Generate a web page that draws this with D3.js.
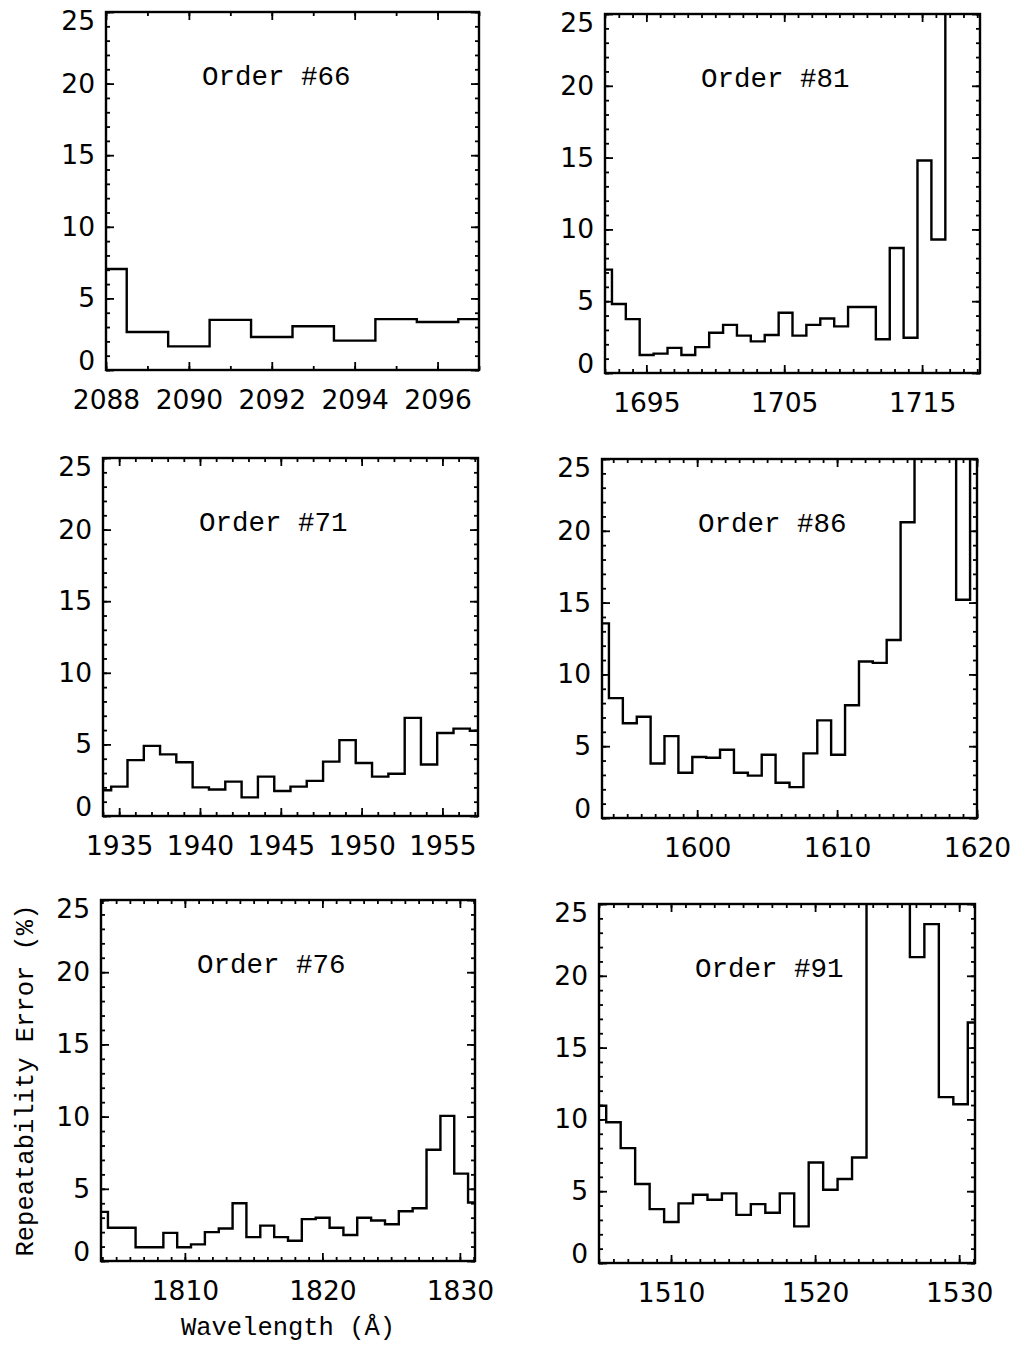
<!DOCTYPE html>
<html lang="en">
<head>
<meta charset="utf-8">
<title>Repeatability error per echelle order</title>
<script src="https://cdn.jsdelivr.net/npm/d3@7"></script>
<style>
  body { margin: 0; background: #fff; }
  .tick text { font-family: "DejaVu Sans", sans-serif; font-size: 26.5px; fill: #000; }
  .tick line { stroke: #000; stroke-width: 1.8; }
  .frame { fill: none; stroke: #000; stroke-width: 2.4; }
  .step { fill: none; stroke: #000; stroke-width: 2.4; stroke-linejoin: miter; }
  .order { font-family: "Liberation Mono", monospace; font-size: 27.5px; fill: #000; }
  .title { font-family: "Liberation Mono", monospace; font-size: 25.5px; fill: #000; }
</style>
</head>
<body>
<svg id="chart" width="1015" height="1347"></svg>
<script>
// wavelengths (bin centres, A) and repeatability error (%)
// values above 25 run off the top of the plot
var order66Wave = [2088, 2089, 2090, 2091, 2092, 2093, 2094, 2095, 2096, 2097];
var order66Err = [7.05, 2.65, 1.65, 3.5, 2.3, 3.05, 2.05, 3.55, 3.35, 3.55];
var order66Ticks = [2088, 2090, 2092, 2094, 2096];

var order81Wave = [1692.00, 1693.01, 1694.01, 1695.02, 1696.03, 1697.04, 1698.04, 1699.05, 1700.06, 1701.07,
                   1702.07, 1703.08, 1704.09, 1705.10, 1706.10, 1707.11, 1708.12, 1709.13, 1710.13, 1711.14,
                   1712.15, 1713.16, 1714.16, 1715.17, 1716.18, 1717.19, 1718.19, 1719.20];
var order81Err = [7.2, 4.8, 3.75, 1.25, 1.35, 1.75, 1.25, 1.8, 2.8, 3.35,
                  2.6, 2.2, 2.65, 4.2, 2.6, 3.35, 3.8, 3.25, 4.6, 4.6,
                  2.35, 8.7, 2.45, 14.8, 9.3, 30, 30, 30];
var order81Ticks = [1695, 1705, 1715];

var order71Wave = [1934.00, 1935.01, 1936.02, 1937.03, 1938.03, 1939.04, 1940.05, 1941.06, 1942.07, 1943.08,
                   1944.09, 1945.10, 1946.10, 1947.11, 1948.12, 1949.13, 1950.14, 1951.15, 1952.16, 1953.17,
                   1954.17, 1955.18, 1956.19, 1957.20];
var order71Err = [1.8, 2.05, 3.9, 4.9, 4.3, 3.75, 2.0, 1.85, 2.4, 1.3,
                  2.75, 1.75, 2.05, 2.45, 3.8, 5.3, 3.7, 2.75, 2.95, 6.85,
                  3.6, 5.8, 6.1, 5.95];
var order71Ticks = [1935, 1940, 1945, 1950, 1955];

var order86Wave = [1593.20, 1594.19, 1595.19, 1596.18, 1597.17, 1598.16, 1599.16, 1600.15, 1601.14, 1602.13,
                   1603.13, 1604.12, 1605.11, 1606.10, 1607.10, 1608.09, 1609.08, 1610.07, 1611.07, 1612.06,
                   1613.05, 1614.04, 1615.04, 1616.03, 1617.02, 1618.01, 1619.01, 1620.00];
var order86Err = [13.55, 8.35, 6.6, 7.05, 3.8, 5.7, 3.15, 4.25, 4.2, 4.75,
                  3.15, 2.95, 4.4, 2.45, 2.15, 4.5, 6.8, 4.4, 7.85, 10.9,
                  10.8, 12.4, 20.6, 30, 30, 30, 15.2, 30];
var order86Ticks = [1600, 1610, 1620];

var order76Wave = [1803.90, 1804.91, 1805.91, 1806.92, 1807.93, 1808.94, 1809.94, 1810.95, 1811.96, 1812.97,
                   1813.97, 1814.98, 1815.99, 1817.00, 1818.00, 1819.01, 1820.02, 1821.03, 1822.03, 1823.04,
                   1824.05, 1825.06, 1826.06, 1827.07, 1828.08, 1829.09, 1830.09, 1831.10];
var order76Err = [3.4, 2.3, 2.3, 0.95, 0.95, 1.95, 0.95, 1.15, 2.0, 2.25,
                  4.0, 1.65, 2.45, 1.65, 1.4, 2.9, 3.0, 2.3, 1.8, 3.0,
                  2.8, 2.55, 3.45, 3.65, 7.7, 10.05, 6.05, 4.05];
var order76Ticks = [1810, 1820, 1830];

var order91Wave = [1505.00, 1506.00, 1507.01, 1508.01, 1509.02, 1510.02, 1511.02, 1512.03, 1513.03, 1514.03,
                   1515.04, 1516.04, 1517.05, 1518.05, 1519.05, 1520.06, 1521.06, 1522.06, 1523.07, 1524.07,
                   1525.08, 1526.08, 1527.08, 1528.09, 1529.09, 1530.10, 1531.10];
var order91Err = [10.95, 9.8, 8.0, 5.5, 3.75, 2.85, 4.15, 4.75, 4.4, 4.85,
                  3.35, 4.1, 3.5, 4.85, 2.55, 7.0, 5.1, 5.85, 7.35, 30,
                  30, 30, 21.3, 23.6, 11.55, 11.05, 16.75];
var order91Ticks = [1510, 1520, 1530];

var errTicks = [0, 5, 10, 15, 20, 25];
var errDomain = [0, 25];

/** panel frames: left, top, right, bottom */
var panels = [
    {label: "Order #66", wave: order66Wave, err: order66Err, ticks: order66Ticks, box: [106, 12, 479, 370]},
    {label: "Order #81", wave: order81Wave, err: order81Err, ticks: order81Ticks, box: [605, 14, 980, 373]},
    {label: "Order #71", wave: order71Wave, err: order71Err, ticks: order71Ticks, box: [103, 458, 478, 816]},
    {label: "Order #86", wave: order86Wave, err: order86Err, ticks: order86Ticks, box: [602, 459, 977, 818]},
    {label: "Order #76", wave: order76Wave, err: order76Err, ticks: order76Ticks, box: [101, 900, 475, 1261]},
    {label: "Order #91", wave: order91Wave, err: order91Err, ticks: order91Ticks, box: [599, 904, 975, 1263]}
];

var svg = d3.select("#chart");
svg.append("rect").attr("width", 1015).attr("height", 1347).attr("fill", "#fff");

var majorLen = 8, minorLen = 4;

panels.forEach(function(p, i) {
    var w = p.box[2] - p.box[0],
        h = p.box[3] - p.box[1];
    var x = d3.scaleLinear().domain(d3.extent(p.wave)).range([0, w]);
    var y = d3.scaleLinear().domain(errDomain).range([h, 0]);
    var g = svg.append("g").attr("transform", "translate(" + p.box[0] + "," + p.box[1] + ")");

    var xd = x.domain();
    var xMinor = d3.range(Math.ceil(xd[0]), Math.floor(xd[1]) + 1);
    var yMinor = d3.range(0, 26);

    /**minor ticks on all four sides, pointing inward*/
    g.append("g").attr("transform", "translate(0," + h + ")")
     .call(d3.axisBottom(x).tickValues(xMinor).tickSize(-minorLen).tickFormat(""));
    g.append("g")
     .call(d3.axisTop(x).tickValues(xMinor).tickSize(-minorLen).tickFormat(""));
    g.append("g")
     .call(d3.axisLeft(y).tickValues(yMinor).tickSize(-minorLen).tickFormat(""));
    g.append("g").attr("transform", "translate(" + w + ",0)")
     .call(d3.axisRight(y).tickValues(yMinor).tickSize(-minorLen).tickFormat(""));

    /**major ticks with labels on bottom and left*/
    g.append("g").attr("transform", "translate(0," + h + ")")
     .call(d3.axisBottom(x).tickValues(p.ticks).tickSize(-majorLen).tickPadding(20).tickFormat(d3.format("d")));
    g.append("g")
     .call(d3.axisTop(x).tickValues(p.ticks).tickSize(-majorLen).tickFormat(""));
    var yAx = g.append("g")
     .call(d3.axisLeft(y).tickValues(errTicks).tickSize(-majorLen).tickPadding(11).tickFormat(d3.format("d")));
    g.append("g").attr("transform", "translate(" + w + ",0)")
     .call(d3.axisRight(y).tickValues(errTicks).tickSize(-majorLen).tickFormat(""));

    /**end labels sit just inside the axis range*/
    yAx.selectAll(".tick text").attr("transform", function(d) {
        if (d === 0) return "translate(0,-9)";
        if (d === 25) return "translate(0,9)";
        return null;
    });

    g.selectAll(".domain").remove();

    g.append("clipPath").attr("id", "clip" + i)
     .append("rect").attr("width", w).attr("height", h);

    var line = d3.line()
        .x(function(d) { return x(d[0]); })
        .y(function(d) { return y(d[1]); })
        .curve(d3.curveStep);

    g.append("path")
     .datum(d3.zip(p.wave, p.err))
     .attr("class", "step")
     .attr("clip-path", "url(#clip" + i + ")")
     .attr("d", line);

    g.append("rect").attr("class", "frame").attr("width", w).attr("height", h);

    g.append("text").attr("class", "order")
     .attr("x", 96).attr("y", 73)
     .text(p.label);

    if (i === 4) {
        g.append("text").attr("class", "title")
         .attr("text-anchor", "middle")
         .attr("x", w / 2).attr("y", 435)
         .text("Wavelength (Å)");
        g.append("text").attr("class", "title")
         .attr("text-anchor", "middle")
         .attr("transform", "translate(-68," + (h / 2) + ") rotate(-90)")
         .text("Repeatability Error (%)");
    }
});
</script>
</body>
</html>
